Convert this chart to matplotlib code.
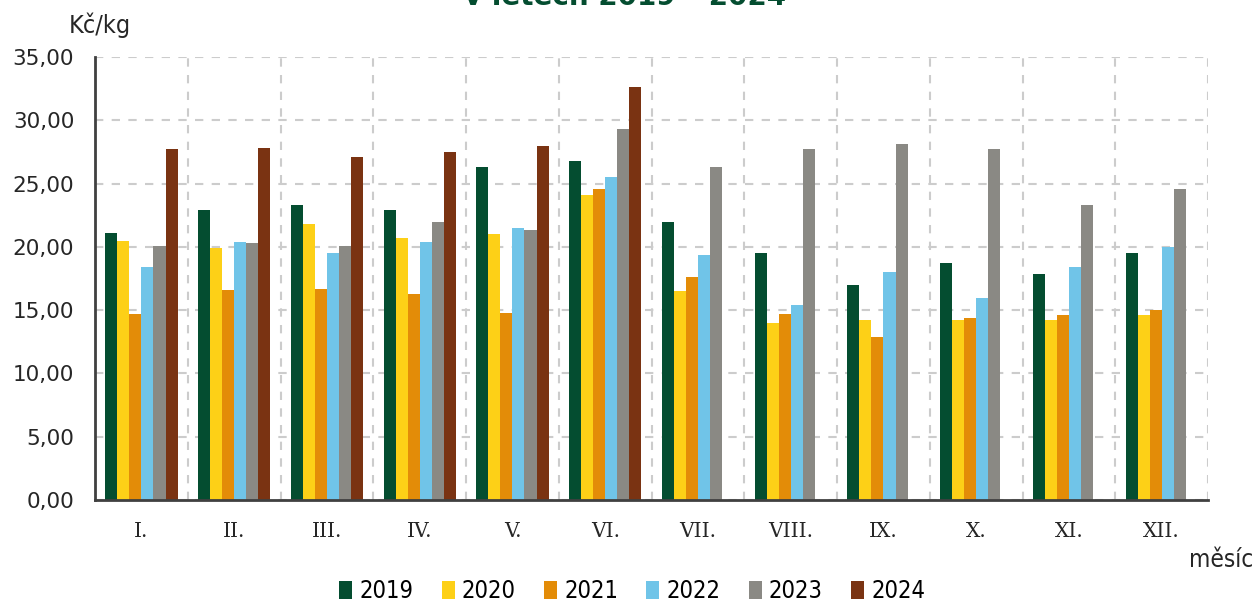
import numpy as np
import matplotlib
matplotlib.use("Agg")
import matplotlib.pyplot as plt
from matplotlib.patches import Patch

# měsíce a roky
mesice = ["I.", "II.", "III.", "IV.", "V.", "VI.", "VII.", "VIII.", "IX.", "X.", "XI.", "XII."]
roky = ["2019", "2020", "2021", "2022", "2023", "2024"]

# ceny Kč/kg
r2019 = [21.1, 22.9, 23.3, 22.9, 26.3, 26.8, 22.0, 19.5, 17.0, 18.7, 17.9, 19.5]
r2020 = [20.5, 19.9, 21.8, 20.7, 21.0, 24.1, 16.5, 14.0, 14.2, 14.2, 14.2, 14.6]
r2021 = [14.7, 16.6, 16.7, 16.3, 14.8, 24.6, 17.6, 14.7, 12.9, 14.4, 14.6, 15.0]
r2022 = [18.4, 20.4, 19.5, 20.4, 21.5, 25.5, 19.4, 15.4, 18.0, 16.0, 18.4, 20.0]
r2023 = [20.1, 20.3, 20.1, 22.0, 21.3, 29.3, 26.3, 27.7, 28.1, 27.7, 23.3, 24.6]
r2024 = [27.7, 27.8, 27.1, 27.5, 28.0, 32.6]

barvy = ["#044D30", "#FDD017", "#E38C08", "#70C4E8", "#8A8984", "#7A3312"]
data = [r2019, r2020, r2021, r2022, r2023, r2024]

fig = plt.figure(figsize=(12.57, 6.01), dpi=100)
ax = fig.add_axes([0.0756, 0.168, 0.8855, 0.737])

sirka = 0.13
x = np.arange(len(mesice))
for i, (rok, hodnoty) in enumerate(zip(roky, data)):
    pos = x[:len(hodnoty)] + (i - 2.5) * sirka
    ax.bar(pos, hodnoty, width=sirka, color=barvy[i], zorder=3, label=rok)

ax.set_xlim(-0.5, 11.5)
ax.set_ylim(0, 35)
ax.set_yticks(np.arange(0, 36, 5))
ax.set_yticklabels([f"{v:.2f}".replace(".", ",") for v in np.arange(0, 36, 5)],
                   fontsize=15.5, color="#262626", family="DejaVu Sans")
ax.set_xticks(x)
ax.set_xticklabels(mesice, fontsize=14.5, family="DejaVu Serif", color="#262626")
ax.set_xticks(np.arange(-0.5, 12, 1), minor=True)
ax.tick_params(axis="both", which="both", length=0)
ax.tick_params(axis="x", pad=16)
ax.tick_params(axis="y", pad=15)

ax.grid(axis="y", which="major", color="#cccccc", linestyle=(0, (4, 4)), linewidth=1.5, zorder=0)
ax.grid(axis="x", which="minor", color="#cccccc", linestyle=(0, (4, 4)), linewidth=1.5, zorder=0)
ax.grid(axis="x", which="major", visible=False)

for s in ["top", "right"]:
    ax.spines[s].set_visible(False)
for s in ["left", "bottom"]:
    ax.spines[s].set_color("#404040")
    ax.spines[s].set_linewidth(2)
ax.spines["left"].set_zorder(4)
ax.spines["bottom"].set_zorder(4)

fig.text(0.497, 1 - 5 / 601, "v letech 2019 – 2024", ha="center", va="baseline",
         fontsize=20, fontweight="bold", color="#044D30", family="DejaVu Sans")
fig.text(0.055, 1 - 25 / 601, "Kč/kg", ha="left", va="center", fontsize=18,
         color="#262626", stretch="condensed")
fig.text(0.997, 1 - 560 / 601, "měsíc", ha="right", va="center", fontsize=17.5,
         color="#262626", stretch="condensed")

handles = [Patch(facecolor=c, label=r) for c, r in zip(barvy, roky)]
fig.legend(handles=handles, loc="center", bbox_to_anchor=(0.503, 1 - 591 / 601), ncol=6,
           frameon=False, prop={"size": 17, "stretch": "condensed"}, handlelength=0.55,
           handleheight=0.8, handletextpad=0.3, columnspacing=1.2)

fig.savefig("out.png", dpi=100)
